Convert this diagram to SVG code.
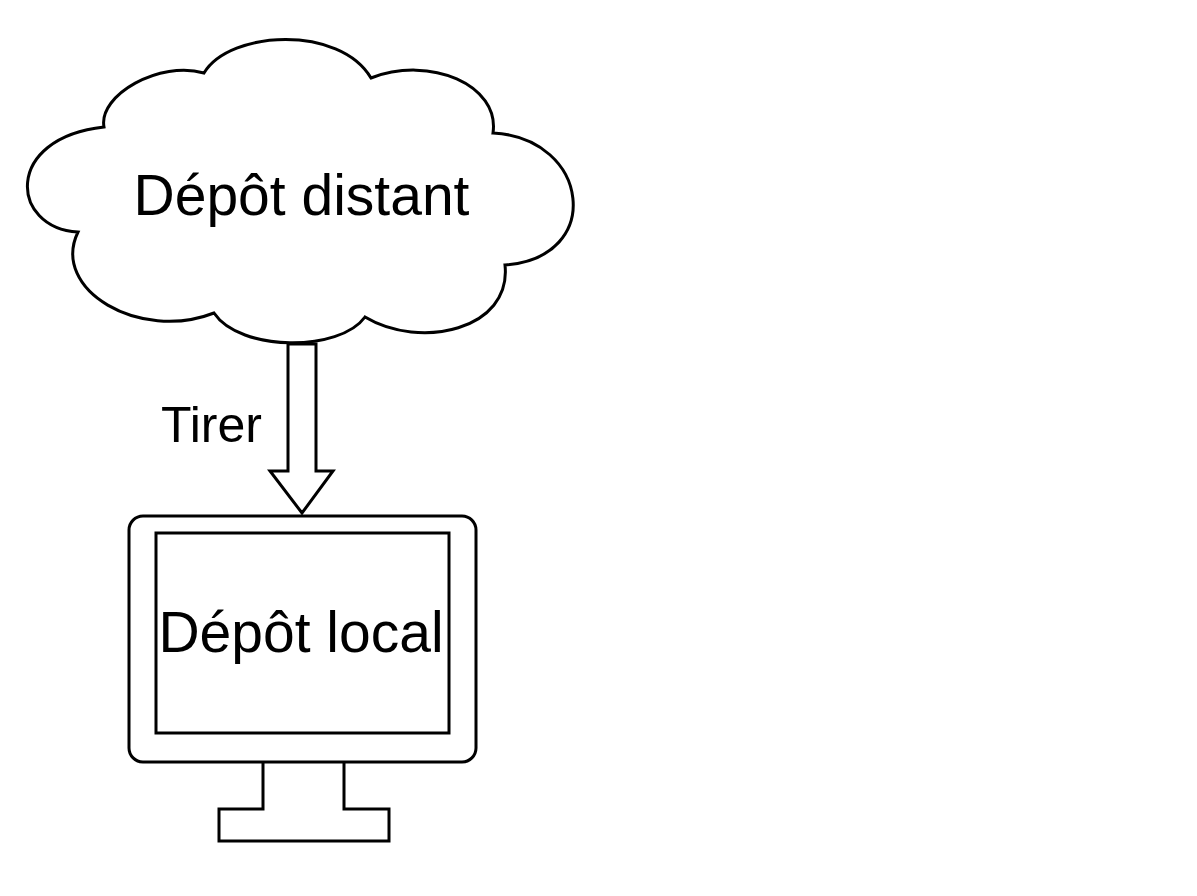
<svg xmlns="http://www.w3.org/2000/svg" width="1197" height="896" viewBox="0 0 1197 896">
<style>
.shape{fill:#fff;stroke:#000;stroke-width:3;stroke-linejoin:miter}
.lbl{font-family:"Liberation Sans",Arial,sans-serif;fill:#000}
</style>
<rect width="1197" height="896" fill="#fff"/>
<g id="connectors">
<g id="pull-arrow">
<polygon class="shape" points="288,344 316,344 316,471 333,471 302,513 270,471 288,471"/>
<text class="lbl" x="161" y="442" font-size="50">Tirer</text>
</g>
</g>
<g id="remote">
<path class="shape" d="M104,127 C98,95 160,60 204,73 C230,30 340,25 371,78 C430,55 500,85 493,133 C590,138 605,258 505,265 C512,330 420,350 365,317 C340,352 240,352 214,313 C140,342 50,290 78,232 C10,228 3,138 104,127 Z"/>
<text class="lbl" x="301.5" y="215" font-size="57" text-anchor="middle">Dépôt distant</text>
</g>
<g id="local">
<polyline class="shape" points="263,762 263,809 219,809 219,841 389,841 389,809 344,809 344,762"/>
<rect class="shape" x="129" y="516" width="347" height="246" rx="14"/>
<rect class="shape" x="156" y="533" width="293" height="200"/>
<text class="lbl" x="301" y="652" font-size="57" text-anchor="middle">Dépôt local</text>
</g>
</svg>
